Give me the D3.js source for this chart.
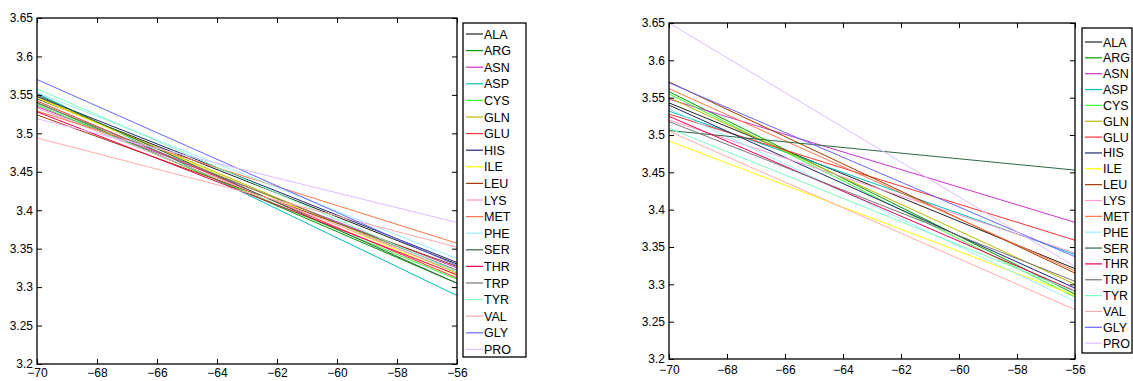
<!DOCTYPE html>
<html><head><meta charset="utf-8">
<script src="https://cdn.jsdelivr.net/npm/d3@7"></script>
<style>body{margin:0;background:#fff;}svg{display:block;font-family:"Liberation Sans",Arial,Helvetica,sans-serif;}</style>
</head><body>
<svg id="c" width="1133" height="381"></svg>
<script>
const residues = ["ALA","ARG","ASN","ASP","CYS","GLN","GLU","HIS","ILE","LEU","LYS","MET","PHE","SER","THR","TRP","TYR","VAL","GLY","PRO"];
const colors = ["#222222","#009900","#cc33cc","#00bbbb","#33ff33","#bbbb00","#ff3333","#1a2a70","#ffff00","#a33a00","#ff99cc","#ff7744","#99eeff","#2e6644","#ee0055","#777777","#77ffbb","#ffaaaa","#6666ff","#ddbbff"];
const xEnds = [-70, -56];
// left panel: value at x=-70 and x=-56
const leftStart = [3.545,3.540,3.535,3.552,3.537,3.547,3.542,3.548,3.546,3.524,3.533,3.529,3.553,3.550,3.528,3.539,3.558,3.494,3.570,3.519];
const leftEnd   = [3.330,3.305,3.325,3.289,3.310,3.318,3.312,3.332,3.315,3.327,3.320,3.357,3.337,3.305,3.316,3.322,3.320,3.352,3.328,3.384];
// right panel
const rightStart = [3.543,3.558,3.548,3.532,3.555,3.550,3.528,3.540,3.492,3.571,3.520,3.562,3.535,3.506,3.525,3.518,3.509,3.505,3.570,3.650];
const rightEnd   = [3.321,3.287,3.383,3.340,3.283,3.300,3.359,3.295,3.285,3.315,3.342,3.318,3.277,3.453,3.291,3.304,3.290,3.266,3.337,3.324];
const xTicks = [-70,-68,-66,-64,-62,-60,-58,-56];
const yTicks = [3.2,3.25,3.3,3.35,3.4,3.45,3.5,3.55,3.6,3.65];

const svg = d3.select("#c");

function panel(box, starts, ends, leg, xpad) {
  const x = d3.scaleLinear().domain([-70,-56]).range([box.x0, box.x1]);
  const y = d3.scaleLinear().domain([3.2,3.65]).range([box.y1, box.y0]);
  const g = svg.append("g");
  const line = d3.line().x(d=>x(d[0])).y(d=>y(d[1]));
  residues.forEach((r,i)=>{
    g.append("path").attr("d", line([[xEnds[0],starts[i]],[xEnds[1],ends[i]]]))
      .attr("fill","none").attr("stroke",colors[i]).attr("stroke-width",1);
  });
  const fmtX = v => (v<0?"\u2212":"") + Math.abs(v);
  const fmtY = v => String(+v.toFixed(2));
  const tl = 5;
  const ax = g.append("g").attr("transform",`translate(0,${box.y1})`)
    .call(d3.axisBottom(x).tickValues(xTicks).tickFormat(fmtX).tickSizeInner(-tl).tickSizeOuter(0).tickPadding(xpad));
  const axT = g.append("g").attr("transform",`translate(0,${box.y0})`)
    .call(d3.axisTop(x).tickValues(xTicks).tickFormat("").tickSizeInner(-tl).tickSizeOuter(0));
  const ay = g.append("g").attr("transform",`translate(${box.x0},0)`)
    .call(d3.axisLeft(y).tickValues(yTicks).tickFormat(fmtY).tickSizeInner(-tl).tickSizeOuter(0).tickPadding(4));
  const ayR = g.append("g").attr("transform",`translate(${box.x1},0)`)
    .call(d3.axisRight(y).tickValues(yTicks).tickFormat("").tickSizeInner(-tl).tickSizeOuter(0));
  [ax,axT,ay,ayR].forEach(a=>{a.select(".domain").remove(); a.selectAll("text").attr("font-size",12).attr("fill","#000").attr("font-family","Liberation Sans, Arial, sans-serif"); a.selectAll("line").attr("stroke","#000");});
  g.append("rect").attr("x",box.x0).attr("y",box.y0).attr("width",box.x1-box.x0).attr("height",box.y1-box.y0)
    .attr("fill","none").attr("stroke","#000").attr("stroke-width",1.3);
  // legend
  const lg = svg.append("g");
  lg.append("rect").attr("x",leg.x).attr("y",leg.y).attr("width",leg.w).attr("height",leg.h)
    .attr("fill","#fff").attr("stroke","#000").attr("stroke-width",1.3);
  residues.forEach((r,i)=>{
    const yy = leg.first + i*leg.step;
    lg.append("line").attr("x1",leg.x+3).attr("x2",leg.x+20).attr("y1",yy).attr("y2",yy)
      .attr("stroke",colors[i]).attr("stroke-width",1.2);
    lg.append("text").attr("x",leg.x+21).attr("y",yy).attr("dy","0.36em")
      .attr("font-size",12.5).text(r);
  });
}

panel({x0:37,x1:457,y0:18,y1:364}, leftStart, leftEnd, {x:463,y:23,w:63,h:334,first:34,step:16.6}, 4);
panel({x0:669,x1:1075,y0:23,y1:359}, rightStart, rightEnd, {x:1082,y:28,w:50,h:325,first:42,step:15.85}, 6);
</script>
</body></html>
